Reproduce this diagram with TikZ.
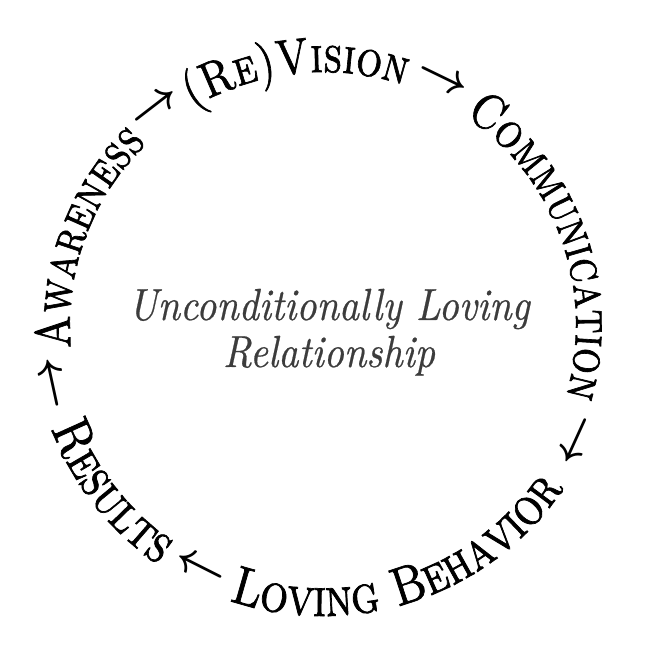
\documentclass[tikz,border=0pt]{standalone}
\usepackage{fontspec}
\usetikzlibrary{decorations.text}
\newfontfamily\ringfont{lmromancaps10-regular.otf}[FakeStretch=0.82, FakeBold=1.3]
\newfontfamily\midfont{lmroman10-italic.otf}[FakeStretch=0.88, FakeBold=0.5]
\definecolor{midgray}{RGB}{60,60,60}
\newcommand\ringarrow{\scalebox{4.6}{\boldmath$\rightarrow$}}
\tikzset{
  topword/.style={decorate, decoration={text along path, text align=center,
      text={|\ringfont\fontsize{50pt}{52pt}\selectfont|#1}}},
  botword/.style={decorate, decoration={text along path, text align=center,
      text={|\ringfont\fontsize{54pt}{56pt}\selectfont|#1}}},
  arrownode/.style={inner sep=0pt, outer sep=0pt},
  midtext/.style={anchor=base, inner sep=0pt, text=midgray,
      font=\midfont\fontsize{45pt}{47pt}\selectfont},
}
\begin{document}
\begin{tikzpicture}
\useasboundingbox (-323pt,-327pt) rectangle (325pt,325pt);
% upper ring words (clockwise, letters pointing outward)
\path[topword=Awareness] (199.7:253pt) arc[start angle=199.7, end angle=119.7, radius=253pt];
\path[topword=(Re)Vision] (136.2:253pt) arc[start angle=136.2, end angle=56.2, radius=253pt];
\path[topword=Communication] (69.75:253pt) arc[start angle=69.75, end angle=-30.25, radius=253pt];
% lower ring words (counter-clockwise, letters pointing inward)
\path[botword=Results] (183.2:291pt) arc[start angle=183.2, end angle=253.2, radius=291pt];
\path[botword=Loving Behavior] (243.5:291pt) arc[start angle=243.5, end angle=333.5, radius=291pt];
% arrows
\node[arrownode, rotate=37.6] (ar1) at (127.6:274pt) {\ringarrow};
\node[arrownode, rotate=-25.9] (ar2) at (64.1:272pt) {\ringarrow};
\node[arrownode, rotate=-114.5] (ar3) at (-24.5:275pt) {\ringarrow};
\node[arrownode, rotate=153.2] (ar4) at (243.2:269pt) {\ringarrow};
\node[arrownode, rotate=102.2] (ar5) at (192.2:274pt) {\ringarrow};
% centre
\node[midtext] (mid1) at (6pt,5pt) {Unconditionally Loving};
\node[midtext] (mid2) at (6pt,-42pt) {Relationship};
\end{tikzpicture}
\end{document}
